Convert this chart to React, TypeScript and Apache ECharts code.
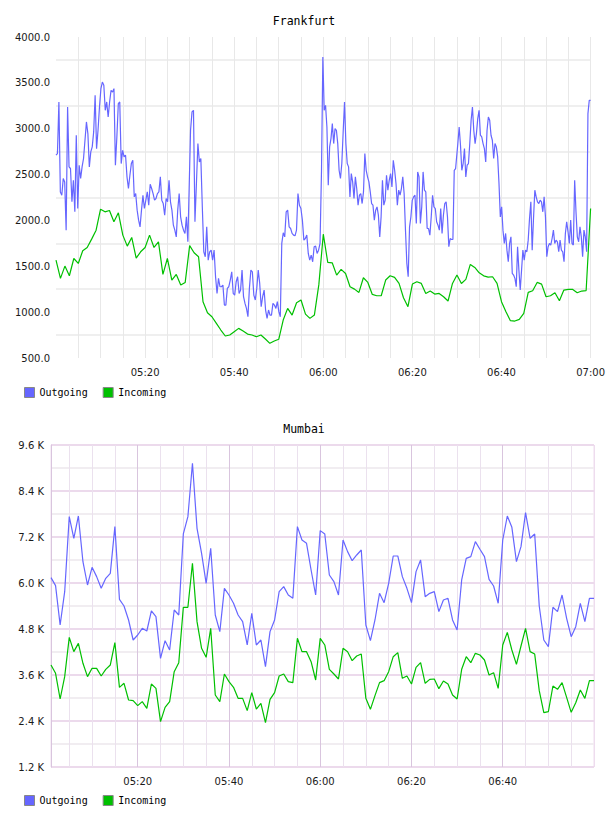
import React, { useEffect, useRef } from 'react';
import * as echarts from 'echarts';

// ---- Frankfurt: Outgoing (dense samples, four half-hour blocks) ----
const fraOut1 = [
  2711, 2729, 3292, 2311, 2275, 2457, 2420, 1894, 3237, 2584,
  2566, 2203, 2438, 2094, 2929, 2130, 2602, 2457, 2584, 2675,
  2874, 3074, 2947, 2584, 2747, 2802, 2965, 3364, 2783, 2983,
  3237, 3437, 3509, 3473, 3201, 3292, 3128, 3292, 3419, 3400,
  3437, 2602, 2910, 3273, 3292, 2620, 2765, 2693, 2711, 2475,
  2348, 2493, 2620, 2656, 2257, 2293, 2112, 2003, 1930, 2112,
  2275, 2130, 2221, 2311, 2166, 2395, 2348, 2293, 2221, 2239,
  2293, 2311, 2475, 2221, 2184, 2057, 2239, 2203, 2438, 2203,
  2112, 1948, 1894, 1821, 2112, 2293, 2039, 1948, 1894, 1858,
  2039, 1767,
];
const fraOut2 = [
  2983, 3183, 3201, 1985, 2402, 2838, 2638, 2675, 2148, 1658,
  1604, 1930, 1567, 1658, 1676, 1567, 1676, 1386, 1204, 1368,
  1277, 1277, 1295, 1077, 1077, 1259, 1277, 1350, 1440, 1204,
  1186, 1331, 1386, 1204, 1241, 1458, 1168, 1095, 1041, 950,
  1259, 1458, 1440, 1186, 1132, 1259, 1458, 1313, 1059, 1168,
  1241, 1023, 932, 1023, 968, 968, 1095, 1077, 1041, 1114,
  1005, 950, 1749, 1865, 1821, 2094, 2112, 1930, 1912, 1858,
  1840, 1832, 1894, 2293, 2166, 2130, 2003, 1785, 1803, 1840,
  1640, 1567, 1622, 1549, 1713, 1720, 1640, 1676, 1749, 2547,
];
const fraOut3 = [
  3782, 3201, 3255, 3019, 2384, 2802, 2892, 3056, 2838, 3001,
  2983, 2838, 2547, 2457, 2620, 2965, 3292, 2838, 2620, 2584,
  2257, 2511, 2420, 2239, 2475, 2348, 2166, 2275, 2293, 2184,
  2311, 2729, 2547, 2475, 2420, 2311, 2184, 2166, 2003, 2112,
  2148, 2057, 1821, 2039, 2438, 2166, 2221, 2493, 2330, 2438,
  2511, 2366, 2656, 2547, 2402, 2166, 2330, 2275, 2348, 2475,
  2293, 1894, 1531, 1386, 1930, 2039, 2221, 2257, 2275, 1967,
  2529, 2475, 1967, 2148, 2529, 2330, 2311, 1912, 1912, 1840,
  2039, 2275, 2148, 2130, 1985, 1948, 1894, 2130, 1858, 2057,
  2184, 2203, 2039, 1713, 1803, 1792, 1792, 2547, 2566,
];
const fraOut4 = [
  2838, 3019, 2820, 2547, 2620, 2783, 2475, 2602, 2620, 2838,
  3092, 3237, 2983, 2838, 2947, 3110, 3201, 2929, 2910, 2838,
  2783, 2638, 2983, 3128, 3092, 2929, 2874, 2675, 2838, 2802,
  2693, 2402, 2039, 2148, 1894, 1749, 1858, 1676, 1549, 1749,
  1821, 1422, 1404, 1368, 1277, 1713, 1458, 1241, 1458, 1676,
  1567, 1676, 1658, 1785, 2021, 2203, 1676, 2021, 2330, 2257,
  2203, 2184, 2221, 2203, 2094, 2257, 2039, 1604, 1713, 1749,
  1731, 1803, 1894, 1749, 1785, 1767, 1658, 1785, 1676, 1658,
  1549, 1858, 1985, 1876, 1749, 2003, 1749, 1731, 2438, 2094,
  1821, 1767, 1930, 1821, 1604, 1894, 1821, 1658, 3164, 3310,
  3310,
];
// time span (minutes after 05:00) covered by each block
const fraOutSpans = [
  [0, 29.6],
  [30.2, 59.6],
  [59.9, 89.7],
  [90.2, 120],
];

// ---- Frankfurt: Incoming (1-minute samples from 05:00) ----
const fraIn = [
  1567, 1368, 1502, 1397, 1585, 1531, 1669, 1705, 1796, 1894,
  2123, 2094, 2108, 1985, 2083, 1840, 1720, 1814, 1589, 1658,
  1705, 1840, 1705, 1767, 1411, 1585, 1350, 1411, 1295, 1324,
  1725, 1647, 1604, 1114, 994, 950, 878, 805, 740, 751,
  787, 823, 794, 761, 751, 732, 751, 707, 660, 685,
  704, 914, 1041, 968, 1103, 1132, 979, 932, 968, 1300,
  1850, 1542, 1538, 1404, 1466, 1422, 1277, 1251, 1215, 1375,
  1324, 1193, 1179, 1179, 1350, 1397, 1379, 1313, 1157, 1059,
  1306, 1331, 1313, 1204, 1230, 1197, 1204, 1168, 1121, 1313,
  1404, 1313, 1357, 1520, 1487, 1429, 1396, 1382, 1386, 1313,
  1114, 1005, 907, 903, 921, 986, 1215, 1233, 1324, 1306,
  1168, 1179, 1212, 1124, 1241, 1248, 1248, 1212, 1230, 1235,
  2130,
];
const FRA_IN_START = 0;

// ---- Mumbai (1-minute samples from 05:01) ----
const mumOut = [
  6140, 5931, 4905, 5774, 7731, 7166, 7748, 6556, 5948, 6409,
  6166, 5861, 6122, 6253, 7470, 5574, 5400, 5035, 4513, 4644,
  4818, 4748, 5270, 5122, 4035, 4496, 4252, 5296, 5166, 7279,
  7731, 9123, 7427, 6774, 5991, 6905, 5166, 4731, 5861, 5687,
  5470, 5166, 4992, 4383, 5209, 4383, 4513, 3818, 4731, 5035,
  5774, 5905, 5687, 5601, 7470, 7122, 7035, 6339, 5687, 7366,
  7279, 6209, 6035, 5687, 7122, 6818, 6583, 6731, 6861, 4905,
  4496, 5035, 5731, 5487, 5991, 6705, 6705, 6166, 5861, 5487,
  6296, 6600, 5644, 5731, 5774, 5253, 5557, 5601, 5035, 4774,
  6079, 6644, 6688, 7079, 6879, 6688, 6096, 5922, 5470, 7122,
  7748, 7453, 6557, 6948, 7835, 7166, 7279, 5400, 4513, 4339,
  5366, 5253, 5687, 5079, 4600, 4861, 5470, 4992, 5601, 5601,
];
const mumIn = [
  3861, 3644, 2974, 3557, 4583, 4209, 4426, 3905, 3557, 3774,
  3774, 3574, 3748, 3861, 4444, 3278, 3383, 2948, 2931, 2800,
  2905, 2731, 3365, 3252, 2383, 2757, 2905, 3687, 3922, 5366,
  5366, 6514, 4992, 4296, 4061, 4818, 3078, 2905, 3626, 3426,
  3278, 2991, 2991, 2670, 3139, 2713, 2861, 2357, 2965, 3139,
  3574, 3626, 3426, 3400, 4557, 4209, 4209, 3948, 3470, 4557,
  4383, 3748, 3626, 3496, 4296, 4209, 3974, 4096, 4148, 2991,
  2704, 3061, 3400, 3452, 3687, 4078, 4183, 3513, 3574, 3365,
  3800, 3922, 3383, 3487, 3496, 3244, 3444, 3365, 3078, 2974,
  3748, 4078, 3922, 4165, 4122, 3992, 3600, 3661, 3252, 4383,
  4713, 4252, 3878, 4357, 4818, 4209, 4148, 3191, 2618, 2644,
  3313, 3226, 3400, 3017, 2626, 2878, 3209, 2991, 3452, 3452,
];
const MUM_START = 1;

const titles = ['Frankfurt', 'Mumbai'];
const seriesNames = ['Outgoing', 'Incoming'];

const BLUE = '#6666ff';
const GREEN = '#00c000';
const LABEL_FONT = 'DejaVu Sans';
const MONO_FONT = 'DejaVu Sans Mono';

const hhmm = (m: number) => {
  const t = Math.round(m);
  const h = 5 + Math.floor(t / 60);
  const mm = t % 60;
  return String(h).padStart(2, '0') + ':' + String(mm).padStart(2, '0');
};

export default function App() {
  const ref = useRef<HTMLDivElement>(null);

  useEffect(() => {
    if (!ref.current) return;
    const chart = echarts.init(ref.current, undefined, { renderer: 'svg' });

    const fraOutBlocks = [fraOut1, fraOut2, fraOut3, fraOut4];
    const fraOutData: number[][] = [];
    fraOutBlocks.forEach((vals, b) => {
      const [a, z] = fraOutSpans[b];
      vals.forEach((v, i) => fraOutData.push([a + (i * (z - a)) / (vals.length - 1), v]));
    });
    const fraInData = fraIn.map((v, i) => [FRA_IN_START + i, v]);
    const mumOutData = mumOut.map((v, i) => [MUM_START + i, v]);
    const mumInData = mumIn.map((v, i) => [MUM_START + i, v]);

    const labelStyle = { fontFamily: LABEL_FONT, fontSize: 10, color: '#1a1a1a' };
    const titleStyle = { fontFamily: MONO_FONT, fontSize: 11.5, fontWeight: 'normal' as const, color: '#000' };
    const legendBase = {
      data: seriesNames,
      left: 24,
      orient: 'horizontal' as const,
      icon: 'rect',
      itemWidth: 10,
      itemHeight: 10,
      itemGap: 15,
      padding: 0,
      selectedMode: false,
      textStyle: { fontFamily: MONO_FONT, fontSize: 10, color: '#000' },
      itemStyle: { borderColor: '#888', borderWidth: 1 },
    };
    const lineBase = {
      type: 'line' as const,
      showSymbol: false,
      symbol: 'none',
      silent: true,
    };

    chart.setOption({
      animation: false,
      backgroundColor: '#fff',
      title: [
        { text: titles[0], left: 'center', top: 15, padding: 0, textStyle: titleStyle },
        { text: titles[1], left: 'center', top: 423, padding: 0, textStyle: titleStyle },
      ],
      legend: [
        { ...legendBase, top: 387 },
        { ...legendBase, top: 795 },
      ],
      grid: [
        { left: 56, top: 37, width: 535, height: 321 },
        { left: 51, top: 445, width: 543, height: 322, show: true, borderColor: '#eedcee', borderWidth: 1 },
      ],
      xAxis: [
        {
          type: 'value', gridIndex: 0, min: 0, max: 120, interval: 5,
          axisLine: { show: false }, axisTick: { show: false },
          axisLabel: {
            ...labelStyle, margin: 9, showMinLabel: true, showMaxLabel: true,
            formatter: (v: number) => (v > 0 && v % 20 === 0 ? hhmm(v) : ''),
          },
          splitLine: { show: true, showMinLine: false, lineStyle: { color: '#e8e8e8', width: 1 } },
        },
        {
          type: 'value', gridIndex: 1, min: 1, max: 120, minInterval: 5, maxInterval: 5, splitNumber: 24,
          axisLine: { show: false }, axisTick: { show: false },
          axisLabel: {
            ...labelStyle, margin: 9,
            formatter: (v: number) => (v % 20 === 0 && v < 120 ? hhmm(v) : ''),
          },
          splitLine: { show: true, lineStyle: { color: '#ebe1ee', width: 1 } },
        },
        {
          type: 'value', gridIndex: 1, min: 1, max: 120, minInterval: 20, maxInterval: 20, splitNumber: 6,
          axisLine: { show: false }, axisTick: { show: false }, axisLabel: { show: false },
          splitLine: {
            show: true,
            lineStyle: {
              color: ['#d9c5de', '#d9c5de', '#d9c5de', '#d9c5de', '#d9c5de', '#d9c5de', '#eedcee'],
              width: 1,
            },
          },
        },
      ],
      yAxis: [
        {
          type: 'value', gridIndex: 0, min: 500, max: 4000, interval: 250,
          axisLine: { show: false, onZero: false }, axisTick: { show: false },
          axisLabel: {
            ...labelStyle, margin: 6,
            formatter: (v: number) => (v % 500 === 0 ? v.toFixed(1) : ''),
          },
          splitLine: { show: true, lineStyle: { color: ['rgba(255,255,255,0)', '#efefef'], width: 2 } },
        },
        {
          type: 'value', gridIndex: 1, min: 1200, max: 9600, interval: 600,
          axisLine: { show: true, onZero: false, lineStyle: { color: '#d9c5de', width: 1 } },
          axisTick: { show: false },
          axisLabel: {
            ...labelStyle, margin: 7,
            formatter: (v: number) => (v % 1200 === 0 ? (v / 1000).toFixed(1) + ' K' : ''),
          },
          splitLine: { show: true, lineStyle: { color: ['#ecdaec', '#f1edf1'], width: 2 } },
        },
      ],
      series: [
        { ...lineBase, name: seriesNames[0], xAxisIndex: 0, yAxisIndex: 0, data: fraOutData,
          lineStyle: { color: BLUE, width: 1.2 }, itemStyle: { color: BLUE } },
        { ...lineBase, name: seriesNames[1], xAxisIndex: 0, yAxisIndex: 0, data: fraInData,
          lineStyle: { color: GREEN, width: 1.2 }, itemStyle: { color: GREEN } },
        { ...lineBase, name: seriesNames[0], xAxisIndex: 1, yAxisIndex: 1, data: mumOutData,
          lineStyle: { color: BLUE, width: 1.2 }, itemStyle: { color: BLUE } },
        { ...lineBase, name: seriesNames[1], xAxisIndex: 1, yAxisIndex: 1, data: mumInData,
          lineStyle: { color: GREEN, width: 1.2 }, itemStyle: { color: GREEN } },
      ],
    });

    return () => chart.dispose();
  }, []);

  return (
    <div
      ref={ref}
      style={{ position: 'absolute', left: 0, top: 0, width: 608, height: 816, background: '#fff' }}
    />
  );
}
